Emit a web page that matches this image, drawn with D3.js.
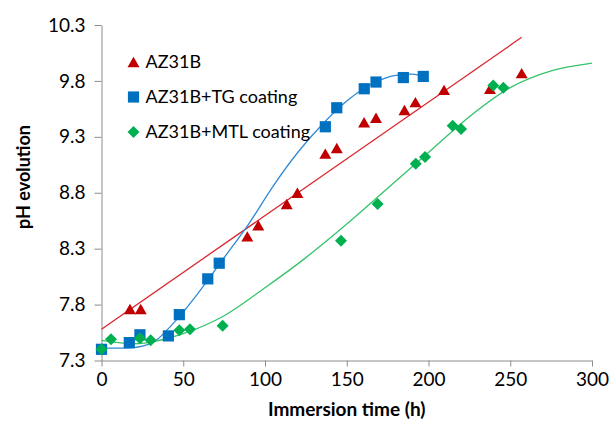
<!DOCTYPE html>
<html>
<head>
<meta charset="utf-8">
<script src="https://cdn.jsdelivr.net/npm/d3@7"></script>
<style>
  body { margin: 0; background: #fff; }
  svg text { font-family: Lato, "Open Sans", sans-serif; }
</style>
</head>
<body>
<div id="chart"></div>
<script>
// Data (hours, pH)
const hoursAZ = [17.4, 24, 89.2, 95.9, 113.3, 119.8, 136.9, 143.9, 160.6, 167.9, 185.3, 192, 209.5, 237.6, 257];
const phAZ = [7.76, 7.76, 8.41, 8.51, 8.70, 8.80, 9.15, 9.20, 9.43, 9.47, 9.54, 9.61, 9.72, 9.73, 9.87];

const hoursTG = [0, 17, 23.5, 40.9, 47.6, 65, 72, 136.9, 143.9, 160.7, 167.9, 184.6, 196.8];
const phTG = [7.40, 7.46, 7.53, 7.52, 7.71, 8.03, 8.17, 9.39, 9.56, 9.73, 9.79, 9.83, 9.84];

const hoursMTL = [0, 5.8, 23.5, 30.1, 47.6, 54.1, 74.1, 146.5, 168.9, 192.2, 197.9, 214.8, 219.9, 239.6, 245.8];
const phMTL = [7.40, 7.49, 7.50, 7.48, 7.57, 7.58, 7.61, 8.37, 8.70, 9.06, 9.12, 9.40, 9.37, 9.76, 9.74];

// Trend lines, also
const trendHoursAZ = [0, 257];
const trendPhAZ = [7.58, 10.19];
const trendHoursTG = [0, 15, 30, 45, 60, 75, 90, 105, 120, 135, 150, 165, 180, 190, 198];
const trendPhTG = [7.41, 7.41, 7.45, 7.65, 7.92, 8.22, 8.52, 8.86, 9.16, 9.41, 9.62, 9.77, 9.85, 9.86, 9.83];
const trendHoursMTL = [0, 20, 50, 75, 100, 125, 150, 175, 200, 225, 250, 275, 300];
const trendPhMTL = [7.48, 7.45, 7.54, 7.70, 7.95, 8.22, 8.52, 8.84, 9.16, 9.48, 9.74, 9.89, 9.96];

const seriesNames = ["AZ31B", "AZ31B+TG coating", "AZ31B+MTL coating"];
const xTicks = [0, 50, 100, 150, 200, 250, 300];
const yTicks = [7.3, 7.8, 8.3, 8.8, 9.3, 9.8, 10.3];

const zip = (xs, ys) => xs.map((x, i) => ({ x: x, y: ys[i] }));

const margin = { top: 25, right: 19, bottom: 66.5, left: 101.5 };
const width = 611 - margin.left - margin.right;
const height = 427 - margin.top - margin.bottom;

const svg = d3.select("#chart")
    .append("svg")
    .attr("width", 611)
    .attr("height", 427)
    .append("g")
    .attr("transform", `translate(${margin.left},${margin.top})`);

const x = d3.scaleLinear().domain([0, 300]).range([0, width]);
const y = d3.scaleLinear().domain([7.3, 10.3]).range([height, 0]);

// Axes
const xAxis = svg.append("g")
    .attr("transform", `translate(0,${height})`)
    .call(d3.axisBottom(x).tickValues(xTicks).tickSize(6).tickSizeOuter(0).tickPadding(6));

const yAxis = svg.append("g")
    .call(d3.axisLeft(y).tickValues(yTicks).tickFormat(d3.format(".1f")).tickSize(7).tickSizeOuter(0).tickPadding(9));

[xAxis, yAxis].forEach(g => {
  g.select(".domain").attr("stroke", "#8c8c8c");
  g.selectAll(".tick line").attr("stroke", "#8c8c8c");
  g.selectAll(".tick text")
      .attr("fill", "#000")
      .style("font-size", "19px");
});

// Trend lines
const line = d3.line()
    .x(d => x(d.x))
    .y(d => y(d.y))
    .curve(d3.curveMonotoneX);

const trends = [
  { pts: zip(trendHoursAZ, trendPhAZ), color: "#d9252c" },
  { pts: zip(trendHoursTG, trendPhTG), color: "#2f8ad8" },
  { pts: zip(trendHoursMTL, trendPhMTL), color: "#35c46a" }
];

trends.forEach(t => {
  svg.append("path")
      .datum(t.pts)
      .attr("fill", "none")
      .attr("stroke", t.color)
      .attr("stroke-width", 1.3)
      .attr("d", line);
});

// Marker shapes
const triPath = "M0,-5.2L6,5.2L-6,5.2Z";
const sqPath = "M-5.6,-5.6H5.6V5.6H-5.6Z";
const diaPath = "M0,-6L6,0L0,6L-6,0Z";

const series = [
  { pts: zip(hoursAZ, phAZ), color: "#c00000", shape: triPath },
  { pts: zip(hoursTG, phTG), color: "#0070c0", shape: sqPath },
  { pts: zip(hoursMTL, phMTL), color: "#00b050", shape: diaPath }
];

series.forEach(s => {
  svg.selectAll(null)
      .data(s.pts)
      .enter()
      .append("path")
      .attr("d", s.shape)
      .attr("transform", d => `translate(${x(d.x)},${y(d.y)})`)
      .attr("fill", s.color);
});

// Legend
const legend = svg.append("g").attr("transform", "translate(32,37)");
series.forEach((s, i) => {
  legend.append("path")
      .attr("d", s.shape)
      .attr("transform", `translate(0,${i * 35})`)
      .attr("fill", s.color);
  legend.append("text")
      .attr("x", 12)
      .attr("y", i * 35)
      .attr("dy", "0.35em")
      .style("font-size", "18px")
      .text(seriesNames[i]);
});

// Axis titles
svg.append("text")
    .attr("x", width / 2)
    .attr("y", height + 55)
    .style("text-anchor", "middle")
    .style("font-size", "19px")
    .style("font-weight", "bold")
    .text("Immersion time (h)");

svg.append("text")
    .attr("transform", "rotate(-90)")
    .attr("x", 0 - 177 + margin.top)
    .attr("y", 0 - margin.left + 30)
    .style("text-anchor", "middle")
    .style("font-size", "18px")
    .style("font-weight", "bold")
    .text("pH evolution");
</script>
</body>
</html>
